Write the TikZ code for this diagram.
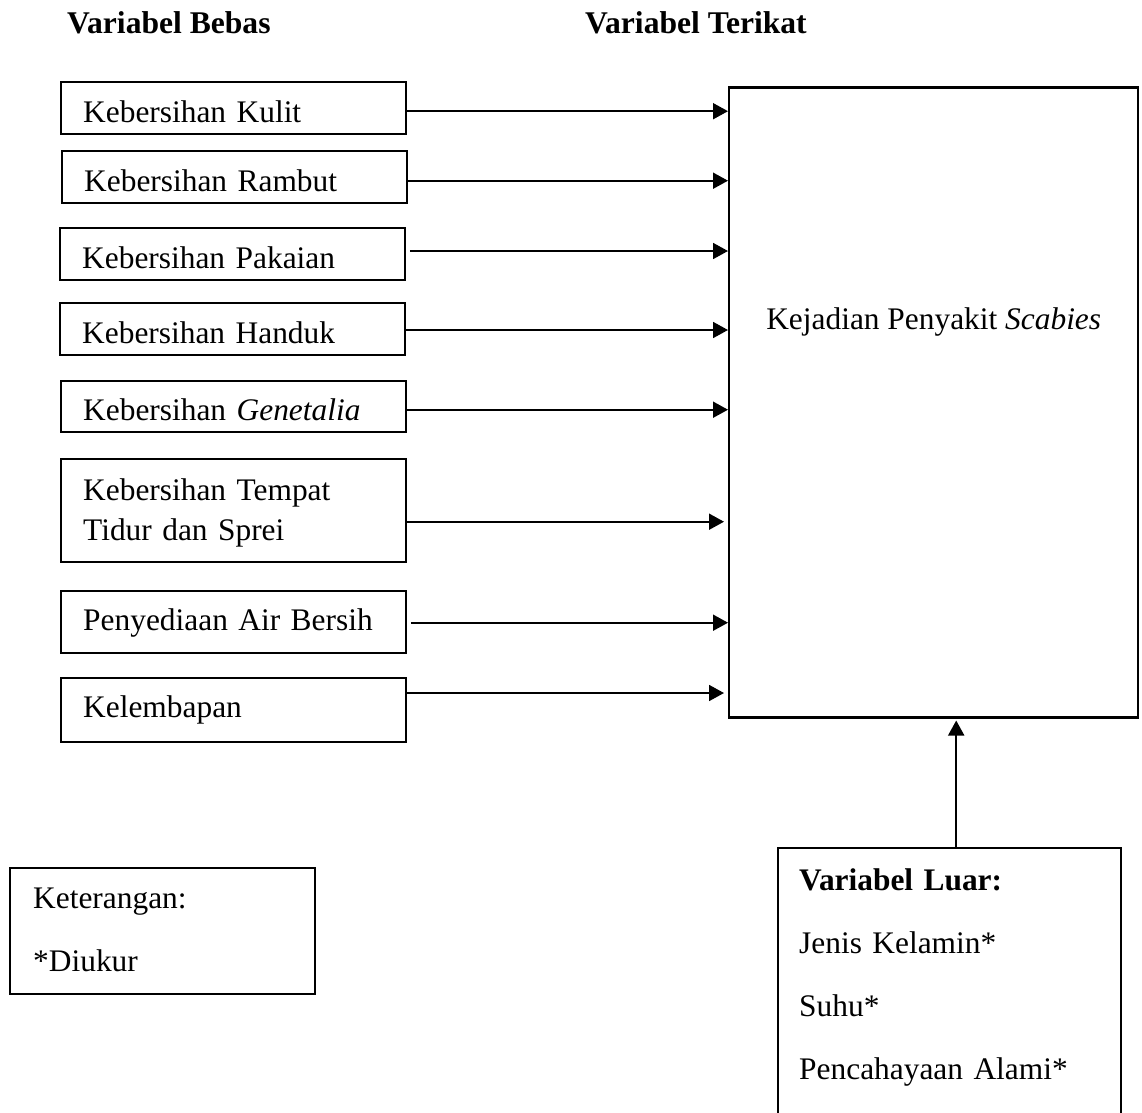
\documentclass[tikz,border=0pt]{standalone}
\usepackage{fontspec}
\setmainfont{Liberation Serif}
\usetikzlibrary{arrows.meta,calc}
\begin{document}
\begin{tikzpicture}[x=1bp,y=-1bp,
  every node/.style={inner sep=0pt, font=\fontsize{31.4bp}{40.7bp}\selectfont},
  vbox/.style={draw, line width=2.4bp, inner xsep=22bp, inner ysep=0pt, text width=301bp, align=left, anchor=base west},
  arr/.style={line width=1.8bp, -{Triangle[length=15bp,width=16bp]}},
  hdr/.style={anchor=base west, font=\fontsize{31.6bp}{40.7bp}\selectfont\bfseries}]
\useasboundingbox (0,0) rectangle (1142,1113);
\clip (0,0) rectangle (1142,1113);

% headers
\node[hdr] (hbebas) at (67,33) {Variabel Bebas};
\node[hdr] (hterikat) at (585,33) {Variabel Terikat};

% independent variable boxes
\node[vbox, text height=40.7bp, text depth=11.3bp] (kulit) at (60,122.7) {Kebersihan Kulit};
\node[vbox, text height=40.7bp, text depth=11.3bp] (rambut) at (61,191.7) {Kebersihan Rambut};
\node[vbox, text height=40bp, text depth=12bp] (pakaian) at (59,268) {Kebersihan Pakaian};
\node[vbox, text height=40bp, text depth=12bp] (handuk) at (59,343) {Kebersihan Handuk};
\node[vbox, text height=39bp, text depth=12bp] (genetalia) at (60,420) {Kebersihan \textit{Genetalia}};
\node[vbox, text height=41bp, text depth=62bp] (tempat) at (60,500) {Kebersihan Tempat\\Tidur dan Sprei};
\node[vbox, text height=39bp, text depth=23bp] (air) at (60,630) {Penyediaan Air Bersih};
\node[vbox, text height=39.7bp, text depth=24.3bp] (lembap) at (60,717.7) {Kelembapan};

% dependent variable box
\node[draw, line width=2.4bp, anchor=base west, minimum width=409bp, text height=242bp, text depth=388bp, inner xsep=0pt] (big) at (728,329.3) {Kejadian Penyakit \textit{Scabies}};

% arrows
\coordinate (a1) at ([yshift=-3.2bp]kulit.east);
\draw[arr] (a1) -- (a1 -| big.west);
\coordinate (a2) at ([yshift=-3.7bp]rambut.east);
\draw[arr] (a2) -- (a2 -| big.west);
\coordinate (a3) at ([xshift=3.5bp,yshift=3bp]pakaian.east);
\draw[arr] (a3) -- (a3 -| big.west);
\coordinate (a4) at ([yshift=-1bp]handuk.east);
\draw[arr] (a4) -- (a4 -| big.west);
\coordinate (a5) at ([yshift=-3.2bp]genetalia.east);
\draw[arr] (a5) -- (a5 -| big.west);
\coordinate (a6) at ([yshift=-11.2bp]tempat.east);
\draw[arr, shorten >=4bp] (a6) -- (a6 -| big.west);
\coordinate (a7) at ([xshift=3.5bp,yshift=-0.7bp]air.east);
\draw[arr] (a7) -- (a7 -| big.west);
\coordinate (a8) at ([yshift=17bp]lembap.east);
\draw[arr, shorten >=4bp] (a8) -- (a8 -| big.west);

% legend box
\node[draw, line width=2.4bp, anchor=base west, inner xsep=23bp, inner ysep=0pt, text width=259bp, align=left,
      text height=40bp, text depth=86bp, font=\fontsize{31.4bp}{63.7bp}\selectfont] (ket) at (9,908) {Keterangan:\\{}*Diukur};

% extraneous variable box (runs off the bottom edge)
\node[draw, line width=2.4bp, anchor=base west, inner xsep=21bp, inner ysep=0pt, text width=301bp, align=left,
      text height=42bp, text depth=260bp, font=\fontsize{31.4bp}{63.3bp}\selectfont] (luar) at (777,890)
      {\textbf{Variabel Luar:}\\Jenis Kelamin*\\Suhu*\\Pencahayaan Alami*};

\coordinate (b1) at ([xshift=6.5bp]luar.north);
\draw[arr, shorten >=2bp] (b1) -- (b1 |- big.south);
\end{tikzpicture}
\end{document}
